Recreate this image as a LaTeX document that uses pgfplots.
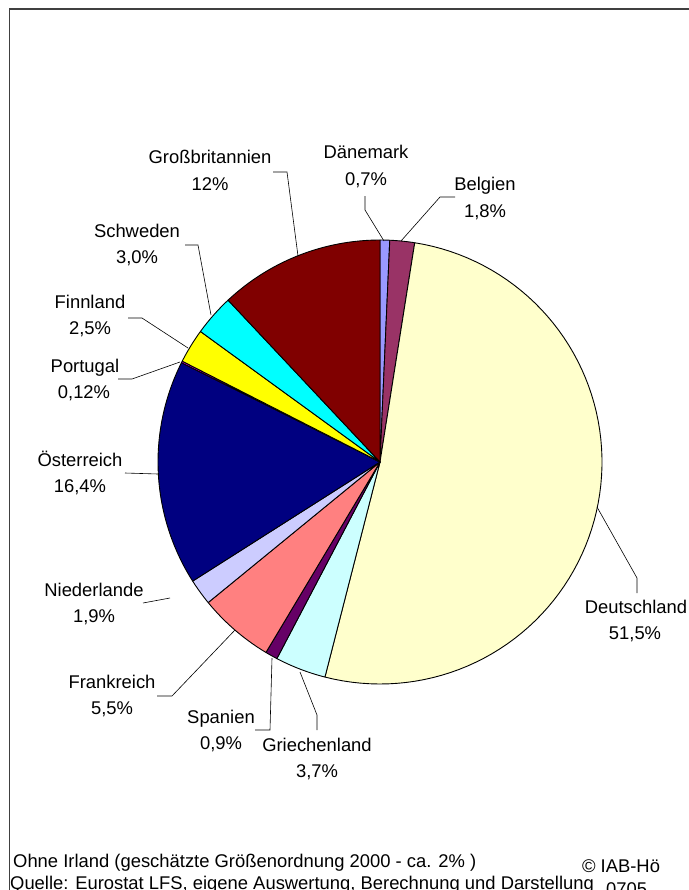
\documentclass[border=0pt]{standalone}
\usepackage{fontspec}
\setmainfont{Liberation Sans}
\usepackage{pgfplots}
\pgfplotsset{compat=1.18}
\definecolor{cDan}{HTML}{9999FF}
\definecolor{cBel}{HTML}{993366}
\definecolor{cDeu}{HTML}{FFFFCC}
\definecolor{cGri}{HTML}{CCFFFF}
\definecolor{cSpa}{HTML}{660066}
\definecolor{cFra}{HTML}{FF8080}
\definecolor{cNie}{HTML}{CCCCFF}
\definecolor{cOst}{HTML}{000080}
\definecolor{cPor}{HTML}{FF00FF}
\definecolor{cFin}{HTML}{FFFF00}
\definecolor{cSch}{HTML}{00FFFF}
\definecolor{cGB}{HTML}{800000}
\definecolor{frame}{HTML}{404040}
\newcommand\lab{\fontsize{18.4bp}{22bp}\selectfont}
\tikzset{lbl/.style={font=\lab, text=black, anchor=base}}
\begin{document}
\begin{tikzpicture}
\begin{axis}[
  scale only axis, width=688bp, height=890bp,
  xmin=0, xmax=688, ymin=0, ymax=890, y dir=reverse,
  hide axis, clip=false,
]
% white background
\addplot[draw=none, fill=white] coordinates {(0,0) (688,0) (688,890) (0,890)} -- cycle;
% pie slices: values in percent, clockwise from 12 o'clock
\gdef\cum{0}
\foreach \v/\c in {0.7/cDan, 1.8/cBel, 51.5/cDeu, 3.7/cGri, 0.9/cSpa, 5.5/cFra, 1.9/cNie, 16.4/cOst, 0.12/cPor, 2.5/cFin, 3.0/cSch, 12/cGB}{%
  \pgfmathsetmacro\aStart{90-3.6*\cum/1.0002}%
  \pgfmathsetmacro\newcum{\cum+\v}%
  \pgfmathsetmacro\aEnd{90-3.6*\newcum/1.0002}%
  \xdef\cum{\newcum}%
  \edef\doplot{\noexpand\addplot[draw=black, line width=0.9bp, fill=\c, domain=\aEnd:\aStart, samples=80, variable=\noexpand\t, line join=round] ({380+222*cos(\noexpand\t)},{462-222*sin(\noexpand\t)}) -- (380,462) -- cycle;}%
  \doplot
}
% leader lines
\addplot[black, line width=0.6bp] coordinates {(384,241) (365,210) (365,196)};
\addplot[black, line width=0.6bp] coordinates {(401,241) (440,197) (455,197)};
\addplot[black, line width=0.6bp] coordinates {(298,256) (287,172) (273,172)};
\addplot[black, line width=0.6bp] coordinates {(211,315) (198,245) (185,245)};
\addplot[black, line width=0.6bp] coordinates {(188,348) (142,318) (128,318)};
\addplot[black, line width=0.6bp] coordinates {(180,362) (132,379) (118,379)};
\addplot[black, line width=0.6bp] coordinates {(158,474) (125,473)};
\addplot[black, line width=0.6bp] coordinates {(170,598) (143,603)};
\addplot[black, line width=0.6bp] coordinates {(235,630) (172,696) (157,696)};
\addplot[black, line width=0.6bp] coordinates {(272,658) (270,730) (255,730)};
\addplot[black, line width=0.6bp] coordinates {(300,672) (317,715) (317,730)};
\addplot[black, line width=0.6bp] coordinates {(597,507) (637,578) (637,593)};
% labels
\node[lbl] at (366,158) {Dänemark};
\node[lbl] at (366,185) {0,7\%};
\node[lbl] at (485,190) {Belgien};
\node[lbl] at (485,217) {1,8\%};
\node[lbl] at (210,163) {Großbritannien};
\node[lbl] at (210,190) {12\%};
\node[lbl] at (137,237) {Schweden};
\node[lbl] at (137,263) {3,0\%};
\node[lbl] at (90,308) {Finnland};
\node[lbl] at (90,334) {2,5\%};
\node[lbl] at (85,372) {Portugal};
\node[lbl] at (84,398) {0,12\%};
\node[lbl] at (80,466) {Österreich};
\node[lbl] at (80,492) {16,4\%};
\node[lbl] at (94,596) {Niederlande};
\node[lbl] at (94,622) {1,9\%};
\node[lbl] at (112,688) {Frankreich};
\node[lbl] at (112,714) {5,5\%};
\node[lbl] at (221,723) {Spanien};
\node[lbl] at (221,749) {0,9\%};
\node[lbl] at (317,751) {Griechenland};
\node[lbl] at (317,777) {3,7\%};
\node[lbl] at (636,613) {Deutschland};
\node[lbl] at (635,639) {51,5\%};
\node[lbl, anchor=base west, inner sep=0pt] at (13,867) {Ohne Irland (geschätzte Größenordnung 2000 - ca. 2\% )};
\node[lbl, anchor=base west, inner sep=0pt] at (10,889) {Quelle: Eurostat LFS, eigene Auswertung, Berechnung und Darstellung};
\node[lbl, inner sep=0pt] at (621,872) {© IAB-Hö};
\node[lbl, anchor=base west, inner sep=0pt] at (606,895) {0705};
% frame
\draw[frame, line width=1.6bp] (9.5,910) -- (9.5,9) -- (700,9);
\end{axis}
\pgfresetboundingbox
\useasboundingbox (current axis.south west) rectangle (current axis.north east);
\end{tikzpicture}
\end{document}
